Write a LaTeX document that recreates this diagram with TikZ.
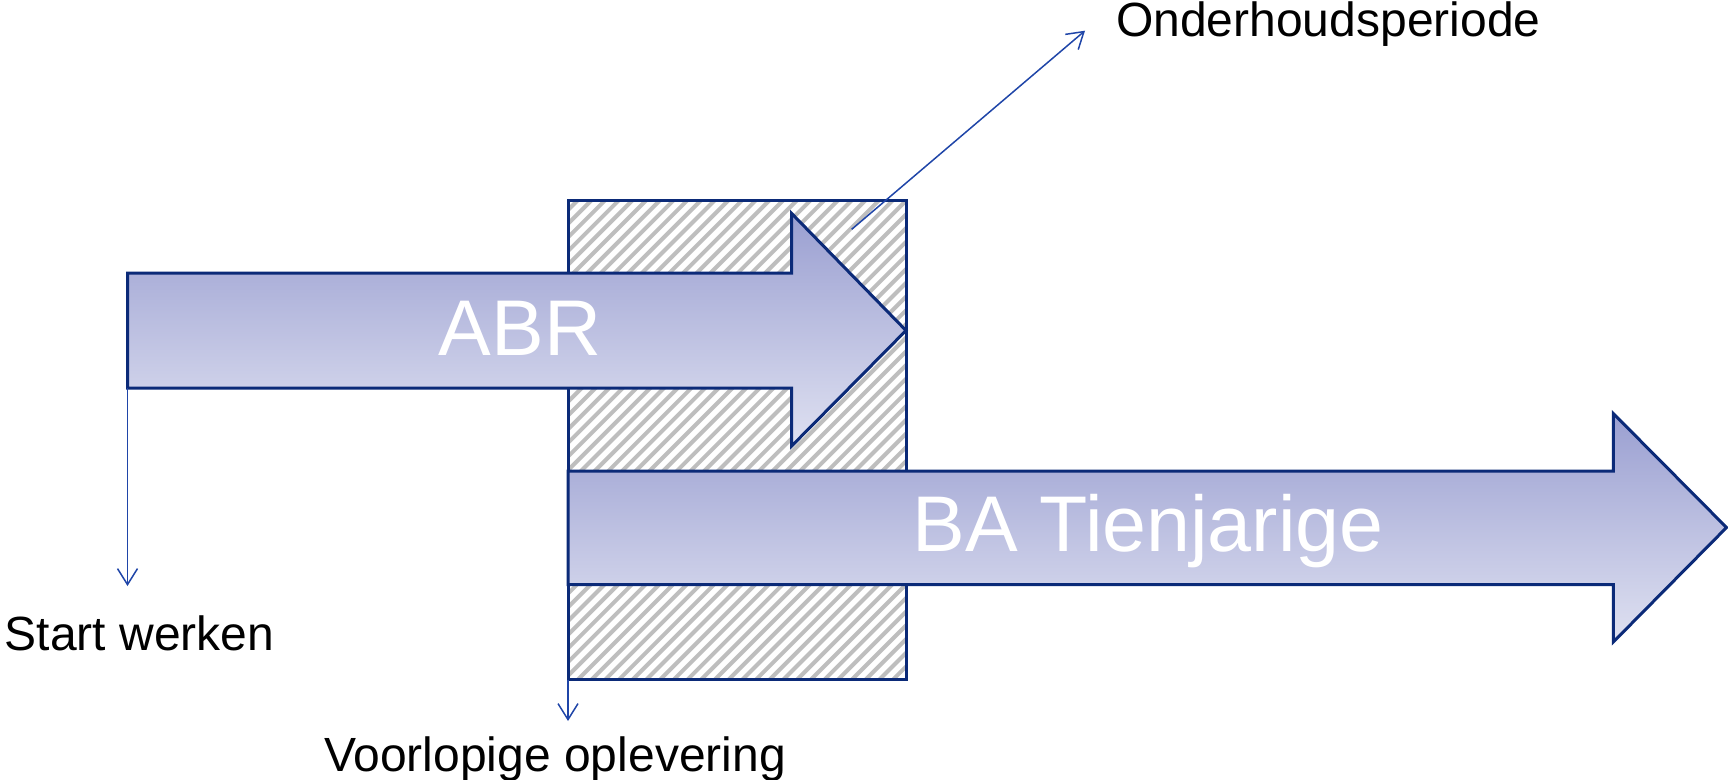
\documentclass[tikz,border=0pt]{standalone}
\usepackage{fontspec}
\setmainfont{Liberation Sans}
\usetikzlibrary{arrows.meta}
\definecolor{navy}{HTML}{0B2A78}
\definecolor{connblue}{HTML}{1F45A8}
\definecolor{gradtop}{HTML}{9A9FD1}
\definecolor{gradbot}{HTML}{DFE1F1}
\definecolor{hatchgray}{HTML}{BEBEBE}
\tikzset{
  bigarrow/.style={draw=navy, line width=3pt, line join=miter, top color=gradtop, bottom color=gradbot},
  hatchbox/.style={draw=navy, line width=3pt},
  hatchline/.style={draw=hatchgray, line width=4pt},
  conn/.style={draw=connblue, line width=1.5pt, -{Straight Barb[length=16pt,width=20pt,line width=1.5pt]}},
  lbl/.style={inner sep=0pt, anchor=base west, font=\fontsize{48}{56}\selectfont},
  biglbl/.style={inner sep=0pt, anchor=base, text=white, font=\fontsize{79}{90}\selectfont}
}
\begin{document}
\begin{tikzpicture}[x=1pt,y=-1pt]
\useasboundingbox (0,0) rectangle (1728,779);
% hatched period box
\begin{scope}
  \clip (568,200) rectangle (906.5,679.5);
  \fill[white] (568,200) rectangle (906.5,679.5);
  \foreach \i in {0,...,62} {
    \draw[hatchline] ({88+\i*13.7},690) -- ++(500,-500);
  }
\end{scope}
\draw[hatchbox] (568,200) rectangle (906.5,679.5);
\coordinate (boxbl) at (568,679.5);
% ABR arrow
\shadedraw[bigarrow] (127.5,273) -- (791.7,273) -- (791.7,213.5) -- (906,330.5)
  -- (791.7,446) -- (791.7,388) -- (127.5,388) -- cycle;
\coordinate (abrbl) at (127.5,388);
\coordinate (hatchpt) at (851.7,229.3);
% BA arrow
\shadedraw[bigarrow] (568,471) -- (1613.3,471) -- (1613.3,413.5) -- (1726.5,527.5)
  -- (1613.3,642) -- (1613.3,584.5) -- (568,584.5) -- cycle;
% labels inside arrows
\node[biglbl] (abr) at (520,355) {ABR};
\node[biglbl] (ba) at (1148,551) {BA Tienjarige};
% outside labels
\node[lbl] (onderhoud) at (1116,36) {Onderhoudsperiode};
\node[lbl] (start) at (4.5,650) {Start werken};
\node[lbl] (voorlopig) at (324,771) {Voorlopige oplevering};
% connector end points
\coordinate (starttip) at (127.5,586);
\coordinate (voortip) at (568,721);
\coordinate (ondtip) at (1085,30.7);
% connectors
\draw[conn] (abrbl) -- (starttip);
\draw[conn] (boxbl) -- (voortip);
\draw[conn] (hatchpt) -- (ondtip);
\end{tikzpicture}
\end{document}
